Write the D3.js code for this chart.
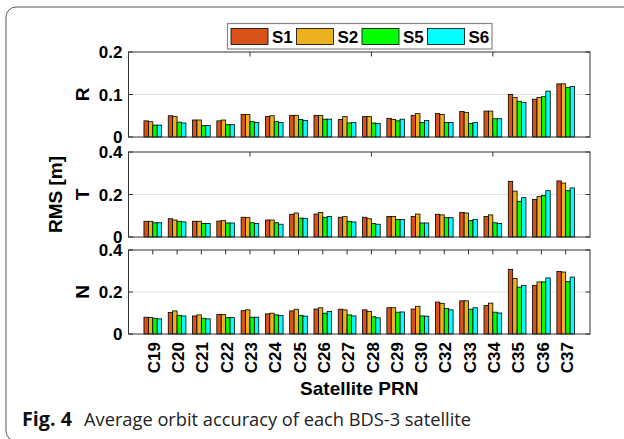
<!DOCTYPE html>
<html lang="en">
<head>
    <meta charset="UTF-8">
    <title>orbit accuracy</title>
    <script src="https://d3js.org/d3.v7.min.js"></script>
    <style>
        body{ margin:0; background:#fff; }
        svg text{ font-family:"Liberation Sans", Arial, sans-serif; font-weight:bold; fill:#000; }
        .caption{ font-family:"Open Sans", "Noto Sans", sans-serif; font-weight:normal; fill:#222; }
    </style>
</head>
<body>
<svg id="fig" width="624" height="439"></svg>

<script>
    // satellites + series
    let prns = ["C19","C20","C21","C22","C23","C24","C25","C26","C27","C28","C29","C30","C32","C33","C34","C35","C36","C37"];
    let seriesNames = ["S1","S2","S5","S6"];
    let seriesColors = ["#d95319","#edb120","#00ff00","#00ffff"];

    // R component RMS [m]
    let R_S1 = [0.038,0.050,0.040,0.038,0.053,0.048,0.051,0.051,0.041,0.048,0.044,0.051,0.055,0.060,0.061,0.100,0.089,0.125];
    let R_S2 = [0.036,0.048,0.040,0.040,0.053,0.050,0.051,0.051,0.048,0.048,0.041,0.055,0.053,0.058,0.061,0.093,0.093,0.125];
    let R_S5 = [0.028,0.035,0.027,0.029,0.036,0.036,0.041,0.042,0.033,0.033,0.038,0.034,0.034,0.032,0.043,0.084,0.095,0.116];
    let R_S6 = [0.028,0.033,0.027,0.029,0.034,0.034,0.039,0.042,0.034,0.032,0.042,0.039,0.034,0.034,0.043,0.081,0.108,0.119];

    // T component
    let T_S1 = [0.074,0.086,0.074,0.075,0.093,0.080,0.107,0.108,0.093,0.093,0.097,0.097,0.107,0.116,0.097,0.262,0.177,0.264];
    let T_S2 = [0.074,0.080,0.074,0.077,0.091,0.080,0.113,0.115,0.096,0.086,0.097,0.108,0.104,0.113,0.104,0.216,0.190,0.254];
    let T_S5 = [0.067,0.074,0.064,0.066,0.067,0.067,0.089,0.093,0.074,0.063,0.082,0.066,0.091,0.078,0.067,0.168,0.195,0.218];
    let T_S6 = [0.067,0.071,0.064,0.066,0.064,0.060,0.088,0.096,0.071,0.060,0.082,0.066,0.091,0.083,0.064,0.185,0.218,0.231];

    // N component
    let N_S1 = [0.080,0.102,0.086,0.093,0.111,0.096,0.110,0.119,0.118,0.115,0.125,0.119,0.152,0.158,0.136,0.308,0.232,0.298];
    let N_S2 = [0.078,0.110,0.091,0.093,0.115,0.099,0.118,0.125,0.115,0.108,0.125,0.132,0.146,0.158,0.147,0.264,0.248,0.295];
    let N_S5 = [0.075,0.089,0.075,0.078,0.080,0.091,0.089,0.099,0.091,0.082,0.104,0.086,0.122,0.118,0.104,0.223,0.248,0.249];
    let N_S6 = [0.072,0.086,0.072,0.078,0.080,0.088,0.085,0.107,0.086,0.077,0.105,0.085,0.115,0.125,0.100,0.231,0.267,0.271];

    let svg = d3.select("#fig");

    // rounded frame around the figure
    svg.append("rect")
        .attr("x",6).attr("y",7)
        .attr("width",660).attr("height",434)
        .attr("rx",10)
        .attr("fill","none")
        .attr("stroke","#555")
        .attr("stroke-width",1);

    let left = 128.5, right = 590;
    let x = d3.scaleLinear().domain([0,19]).range([left,right]);
    let groupPx = (x(1)-x(0))*0.727;
    let xb = d3.scaleBand().domain(seriesNames).range([-groupPx/2, groupPx/2]).padding(0);

    let panels = [
        {label:"R", top:52,  bottom:137, max:0.2, ticks:[0,0.1,0.2], data:[R_S1,R_S2,R_S5,R_S6], xticks:[5,10,15]},
        {label:"T", top:152, bottom:237, max:0.4, ticks:[0,0.2,0.4], data:[T_S1,T_S2,T_S5,T_S6], xticks:[5,10,15]},
        {label:"N", top:250, bottom:334, max:0.4, ticks:[0,0.2,0.4], data:[N_S1,N_S2,N_S5,N_S6], xticks:d3.range(1,19)}
    ];

    panels.forEach(function(p){
        let y = d3.scaleLinear().domain([0,p.max]).range([p.bottom,p.top]);
        let g = svg.append("g");

        // grid at middle tick
        g.selectAll(".grid").data(p.ticks.slice(1,-1)).join("line")
            .attr("x1",left).attr("x2",right)
            .attr("y1",d=>y(d)).attr("y2",d=>y(d))
            .attr("stroke","#e3e3e3").attr("stroke-width",1.2);

        // bars
        seriesNames.forEach(function(s,si){
            g.append("g").selectAll("rect").data(p.data[si]).join("rect")
                .attr("x",(d,i)=>x(i+1)+xb(s))
                .attr("width",xb.bandwidth())
                .attr("y",d=>y(d))
                .attr("height",d=>y(0)-y(d))
                .attr("fill",seriesColors[si])
                .attr("stroke","#000")
                .attr("stroke-width",0.8);
        });

        // box
        g.append("rect")
            .attr("x",left).attr("y",p.top)
            .attr("width",right-left).attr("height",p.bottom-p.top)
            .attr("fill","none").attr("stroke","#333").attr("stroke-width",1);

        // inward ticks, all four sides
        let tl = 4.5;
        g.selectAll(".yt").data(p.ticks).join("path")
            .attr("d",d=>`M${left},${y(d)}h${tl}M${right},${y(d)}h${-tl}`)
            .attr("stroke","#333");
        g.selectAll(".xt").data(p.xticks).join("path")
            .attr("d",d=>`M${x(d)},${p.top}v${tl}M${x(d)},${p.bottom}v${-tl}`)
            .attr("stroke","#333");

        // y tick labels
        g.selectAll(".yl").data(p.ticks).join("text")
            .attr("x",left-6).attr("y",d=>y(d))
            .attr("dy","0.36em")
            .attr("text-anchor","end")
            .style("font-size","17px")
            .text(d=>d3.format("~g")(d));

        // component label
        g.append("text")
            .attr("transform",`translate(89,${(p.top+p.bottom)/2}) rotate(-90)`)
            .attr("text-anchor","middle")
            .style("font-size","19px")
            .text(p.label);
    });

    // shared y label
    svg.append("text")
        .attr("transform",`translate(62,${(152+237)/2}) rotate(-90)`)
        .attr("text-anchor","middle")
        .style("font-size","19px")
        .text("RMS [m]");

    // x tick labels under the last panel
    svg.selectAll(".prn").data(prns).join("text")
        .attr("transform",(d,i)=>`translate(${x(i+1)+1},342) rotate(-90)`)
        .attr("dy","0.36em")
        .attr("text-anchor","end")
        .style("font-size","17px")
        .text(d=>d);

    svg.append("text")
        .attr("x",(left+right)/2).attr("y",395)
        .attr("text-anchor","middle")
        .style("font-size","19px")
        .text("Satellite PRN");

    // legend
    let leg = svg.append("g");
    leg.append("rect")
        .attr("x",227.5).attr("y",23.5)
        .attr("width",264.5).attr("height",25.5)
        .attr("fill","#fff").attr("stroke","#888").attr("stroke-width",1.2);
    seriesNames.forEach(function(s,i){
        let lx = 231 + i*65.5;
        leg.append("rect")
            .attr("x",lx).attr("y",28.5)
            .attr("width",37).attr("height",16)
            .attr("fill",seriesColors[i])
            .attr("stroke","#000").attr("stroke-width",0.8);
        leg.append("text")
            .attr("x",lx+41).attr("y",36.5)
            .attr("dy","0.36em")
            .style("font-size","17px")
            .text(s);
    });

    // caption
    svg.append("text").attr("class","caption")
        .attr("x",22).attr("y",426)
        .attr("textLength",50).attr("lengthAdjust","spacingAndGlyphs")
        .style("font-size","19px").style("font-weight","bold").style("fill","#111")
        .text("Fig. 4");
    svg.append("text").attr("class","caption")
        .attr("x",84).attr("y",426)
        .attr("textLength",387).attr("lengthAdjust","spacingAndGlyphs")
        .style("font-size","19px")
        .text("Average orbit accuracy of each BDS-3 satellite");
</script>

</body>
</html>
